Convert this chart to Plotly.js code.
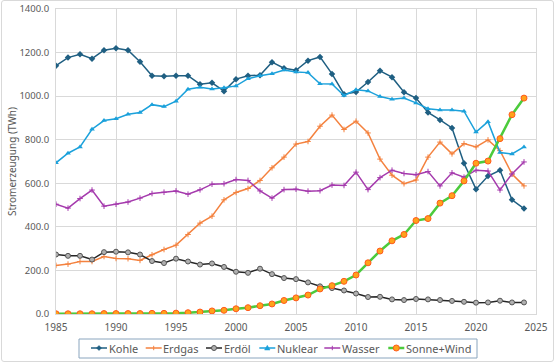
<!DOCTYPE html>
<html>
<head>
<meta charset="utf-8">
<script src="https://cdn.plot.ly/plotly-3.0.1.min.js"></script>
<style>
  html, body { margin: 0; padding: 0; background: #ffffff; }
  #wrap { position: relative; width: 554px; height: 362px; }
  #chart { width: 554px; height: 362px; }
  #frame { position: absolute; left: 1px; top: 0px; width: 551px; height: 360px;
           border: 1px solid #D9D9D9; border-radius: 3px; pointer-events: none; }
</style>
</head>
<body>
<div id="wrap">
  <div id="chart"></div>
  <div id="frame"></div>
</div>
<script>
const years = [1985,1986,1987,1988,1989,1990,1991,1992,1993,1994,1995,1996,1997,1998,1999,
               2000,2001,2002,2003,2004,2005,2006,2007,2008,2009,2010,2011,2012,2013,2014,
               2015,2016,2017,2018,2019,2020,2021,2022,2023,2024];

const kohle = [1140,1177,1192,1172,1211,1220,1211,1158,1094,1091,1094,1094,1055,1061,1023,
               1078,1094,1096,1156,1128,1119,1163,1180,1102,1009,1019,1065,1116,1087,1018,
               991,925,891,854,692,573,633,660,524,484];

const erdgas = [223,229,241,241,264,255,254,246,272,296,316,365,417,449,524,
                558,576,613,671,720,780,792,862,913,847,885,831,711,637,598,
                615,720,789,735,782,767,799,750,642,588];

const erdoel = [273,267,267,250,284,286,283,273,243,234,254,241,227,232,216,
                194,189,208,183,165,160,145,127,119,108,94,78,79,67,64,
                69,67,64,60,56,52,53,61,53,53];

const nuklear = [694,738,767,848,888,896,917,925,961,952,977,1032,1041,1033,1039,
                 1047,1080,1094,1103,1120,1111,1108,1057,1056,1003,1029,1024,998,986,991,
                 969,942,936,936,931,835,883,741,735,767];

const wasser = [504,486,530,569,495,504,514,532,553,559,565,550,570,596,598,
                617,613,565,532,571,573,564,566,592,590,651,571,626,660,645,
                639,654,588,648,628,660,656,569,643,698];

const sonneWind = [1,1,1,1,2,2,2,2,3,3,4,6,9,14,17,
                   24,29,38,46,62,74,87,115,130,150,179,235,289,336,365,
                   429,438,509,543,611,692,702,805,915,991];

const seriesNames = ["Kohle","Erdgas","Erdöl","Nuklear","Wasser","Sonne+Wind"];
const xTicks = [1985,1990,1995,2000,2005,2010,2015,2020,2025];

const C = {
  kohle: "#1F5F82", erdgas: "#F4823F", erdoel: "#262626",
  nuklear: "#1BA1DB", wasser: "#A53AAD", sw: "#4CCB3C",
  swFill: "#FFA21A", swLine: "#FF5A1F", oilFill: "#B0B0B0", oilLine: "#555555"
};

const traces = [
  {x: years, y: kohle, name: seriesNames[0], type: "scatter", mode: "lines+markers",
   line: {color: C.kohle, width: 1.5},
   marker: {symbol: "diamond", size: 5, color: C.kohle}},
  {x: years, y: erdgas, name: seriesNames[1], type: "scatter", mode: "lines+markers",
   line: {color: C.erdgas, width: 1.5},
   marker: {symbol: "cross-thin", size: 4, line: {color: C.erdgas, width: 1}}},
  {x: years, y: erdoel, name: seriesNames[2], type: "scatter", mode: "lines+markers",
   line: {color: C.erdoel, width: 1.5},
   marker: {symbol: "circle", size: 5, color: C.oilFill, line: {color: C.oilLine, width: 1}}},
  {x: years, y: nuklear, name: seriesNames[3], type: "scatter", mode: "lines+markers",
   line: {color: C.nuklear, width: 1.5},
   marker: {symbol: "triangle-up", size: 5, color: C.nuklear}},
  {x: years, y: wasser, name: seriesNames[4], type: "scatter", mode: "lines+markers",
   line: {color: C.wasser, width: 1.5},
   marker: {symbol: "cross-thin", size: 4, line: {color: C.wasser, width: 1}}},
  {x: years, y: sonneWind, name: seriesNames[5], type: "scatter", mode: "lines+markers",
   line: {color: C.sw, width: 2.5},
   marker: {symbol: "circle", size: 6, color: C.swFill, line: {color: C.swLine, width: 1}}}
];

// ---- custom legend (layout only, pixel positions converted to paper coords) ----
const M = {l: 56, r: 18, t: 9, b: 48}, W = 554, H = 362;
const pw = W - M.l - M.r, ph = H - M.t - M.b;
const px2x = p => (p - M.l) / pw;
const px2y = p => (H - M.b - p) / ph;

const legendStarts = [91, 145.7, 206, 259.3, 324.3, 388.3];
const legendSym = [
  {color: C.kohle, width: 1.5, sym: "diamond"},
  {color: C.erdgas, width: 1.5, sym: "plus"},
  {color: C.erdoel, width: 1.5, sym: "circle", fill: C.oilFill, line: C.oilLine, r: 2.5},
  {color: C.nuklear, width: 1.5, sym: "triangle"},
  {color: C.wasser, width: 1.5, sym: "plus"},
  {color: C.sw, width: 2.5, sym: "circle", fill: C.swFill, line: C.swLine, r: 3}
];
const legY = 348;
const shapes = [];
const annotations = [];
shapes.push({type: "rect", xref: "paper", yref: "paper",
  x0: px2x(79), x1: px2x(477), y0: px2y(339), y1: px2y(358),
  line: {color: "#8AA5BE", width: 1}, fillcolor: "rgba(0,0,0,0)"});
legendStarts.forEach((s, i) => {
  const st = legendSym[i];
  const cx = s + 8;
  shapes.push({type: "line", xref: "paper", yref: "paper",
    x0: px2x(s), x1: px2x(s + 16), y0: px2y(legY), y1: px2y(legY),
    line: {color: st.color, width: st.width}});
  if (st.sym === "diamond") {
    shapes.push({type: "path", xref: "paper", yref: "paper",
      path: `M${px2x(cx-2.5)},${px2y(legY)} L${px2x(cx)},${px2y(legY-2.5)} L${px2x(cx+2.5)},${px2y(legY)} L${px2x(cx)},${px2y(legY+2.5)} Z`,
      fillcolor: st.color, line: {color: st.color, width: 0.5}});
  } else if (st.sym === "triangle") {
    shapes.push({type: "path", xref: "paper", yref: "paper",
      path: `M${px2x(cx-2.7)},${px2y(legY+2)} L${px2x(cx)},${px2y(legY-2.7)} L${px2x(cx+2.7)},${px2y(legY+2)} Z`,
      fillcolor: st.color, line: {color: st.color, width: 0.5}});
  } else if (st.sym === "plus") {
    shapes.push({type: "line", xref: "paper", yref: "paper",
      x0: px2x(cx), x1: px2x(cx), y0: px2y(legY-2.2), y1: px2y(legY+2.2),
      line: {color: st.color, width: 1}});
  } else if (st.sym === "circle") {
    shapes.push({type: "circle", xref: "paper", yref: "paper",
      x0: px2x(cx-st.r), x1: px2x(cx+st.r), y0: px2y(legY-st.r), y1: px2y(legY+st.r),
      fillcolor: st.fill, line: {color: st.line, width: 1}});
  }
  annotations.push({text: seriesNames[i], xref: "paper", yref: "paper",
    x: px2x(s + 16.5), y: px2y(legY), xanchor: "left", yanchor: "middle",
    showarrow: false, borderpad: 0, font: {size: 11, color: "#595959"}});
});

const layout = {
  width: W, height: H,
  margin: M,
  paper_bgcolor: "#ffffff",
  plot_bgcolor: "#ffffff",
  font: {family: "Noto Sans, Open Sans, sans-serif", color: "#595959", size: 10},
  showlegend: false,
  shapes: shapes,
  annotations: annotations,
  xaxis: {
    range: [1985, 2025],
    tickvals: xTicks,
    ticktext: xTicks.map(String),
    showgrid: true, gridcolor: "#D9D9D9", gridwidth: 1,
    zeroline: false,
    showline: true, linecolor: "#D9D9D9", mirror: true,
    ticks: "",
    ticklabelstandoff: 4,
    tickfont: {size: 10, color: "#595959"}
  },
  yaxis: {
    range: [0, 1400],
    dtick: 200,
    tickformat: ".1f",
    showgrid: true, gridcolor: "#D9D9D9", gridwidth: 1,
    zeroline: false,
    showline: true, linecolor: "#D9D9D9", mirror: true,
    ticks: "",
    ticklabelstandoff: 4,
    tickfont: {size: 9.5, color: "#595959"},
    title: {text: "Stromerzeugung (TWh)", font: {size: 10, color: "#595959"}, standoff: 0}
  }
};

Plotly.newPlot("chart", traces, layout, {displayModeBar: false, staticPlot: true});
</script>
</body>
</html>
